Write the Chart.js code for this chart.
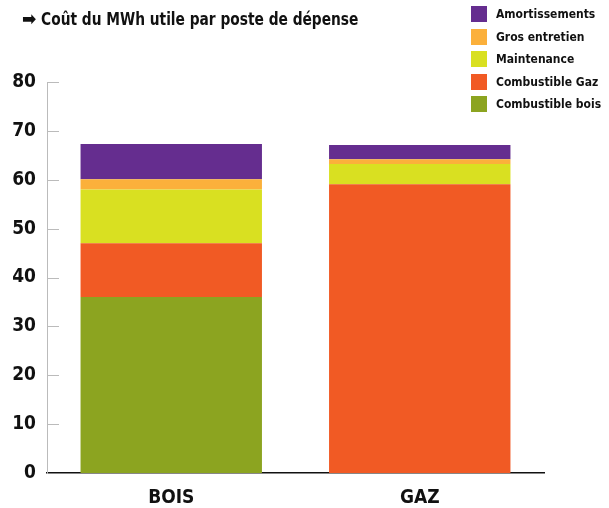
<!DOCTYPE html>
<html>
<head>
<meta charset="utf-8">
<script src="https://cdn.jsdelivr.net/npm/chart.js@4"></script>
<style>
    body { margin: 0; background: #fff; }
    #wrap { position: relative; width: 609px; height: 508px; }
    #title { position: absolute; left: 22px; top: 9px; font: bold 17px "DejaVu Sans Condensed", sans-serif; color: #111; white-space: nowrap; transform-origin: left top; transform: scaleX(0.9); }
    #title span { font-family: "DejaVu Sans"; font-size: 19px; line-height: 17px; }
    #legend { position: absolute; left: 471px; top: 3px; font: bold 12px "DejaVu Sans Condensed", sans-serif; color: #111; white-space: nowrap; }
    #legend div { height: 22.5px; display: flex; align-items: center; }
    #legend i { display: inline-block; width: 16px; height: 16px; margin-right: 9px; }
</style>
</head>
<body>
<div id="wrap">
    <canvas id="costChart" width="609" height="508"></canvas>
    <div id="title"><span>&#10145;</span> Coût du MWh utile par poste de dépense</div>
    <div id="legend"></div>
</div>
<script>
// categories and series
const categories = ['BOIS', 'GAZ'];
const combustibleBois = [36, 0];
const combustibleGaz = [11, 59.1];
const maintenance = [11, 4.1];
const grosEntretien = [2.1, 1.0];
const amortissements = [7.2, 2.9];
const yTicks = [0, 10, 20, 30, 40, 50, 60, 70, 80];

const series = [
    { label: 'Combustible bois', data: combustibleBois, color: '#8ca420' },
    { label: 'Combustible Gaz', data: combustibleGaz, color: '#f15a24' },
    { label: 'Maintenance', data: maintenance, color: '#d9e021' },
    { label: 'Gros entretien', data: grosEntretien, color: '#fbb03b' },
    { label: 'Amortissements', data: amortissements, color: '#652d8f' }
];

// legend (top entry = last dataset)
const legendDiv = document.getElementById('legend');
for (let i = series.length - 1; i >= 0; i--) {
    legendDiv.innerHTML += `<div><i style="background:${series[i].color}"></i>${series[i].label}</div>`;
}

// short tick marks drawn inside the plot
const innerTicks = {
    id: 'innerTicks',
    afterDraw(chart) {
        const ctx = chart.ctx;
        const y = chart.scales.y;
        const left = chart.chartArea.left;
        ctx.save();
        ctx.strokeStyle = '#bbbbbb';
        ctx.lineWidth = 1;
        yTicks.forEach(v => {
            if (v === 0) return;
            const py = Math.round(y.getPixelForValue(v)) + 0.5;
            ctx.beginPath();
            ctx.moveTo(left, py);
            ctx.lineTo(left + 12, py);
            ctx.stroke();
        });
        ctx.restore();
    }
};

const font = "'DejaVu Sans Condensed', sans-serif";
const ctx = document.getElementById('costChart').getContext('2d');
new Chart(ctx, {
    type: 'bar',
    data: {
        labels: categories,
        datasets: series.map(s => ({
            label: s.label,
            data: s.data,
            backgroundColor: s.color,
            borderWidth: 0,
            categoryPercentage: 1,
            barPercentage: 0.73
        }))
    },
    options: {
        responsive: false,
        animation: false,
        layout: { padding: { top: 82, right: 65, bottom: 0, left: 0 } },
        plugins: { legend: { display: false }, tooltip: { enabled: false } },
        scales: {
            x: {
                stacked: true,
                afterFit(scale) { scale.height = 35; },
                grid: { display: false },
                border: { color: '#111', width: 1.5 },
                ticks: { color: '#111', padding: 6, font: { family: font, size: 19, weight: 'bold' } }
            },
            y: {
                stacked: true,
                min: 0,
                max: 80,
                afterFit(scale) { scale.width = 47; },
                afterBuildTicks(scale) { scale.ticks = yTicks.map(v => ({ value: v })); },
                grid: { display: false, drawTicks: false, tickLength: 0 },
                border: { color: '#bbbbbb', width: 1 },
                ticks: { color: '#111', padding: 11, font: { family: font, size: 19, weight: 'bold' } }
            }
        }
    },
    plugins: [innerTicks]
});
</script>
</body>
</html>
